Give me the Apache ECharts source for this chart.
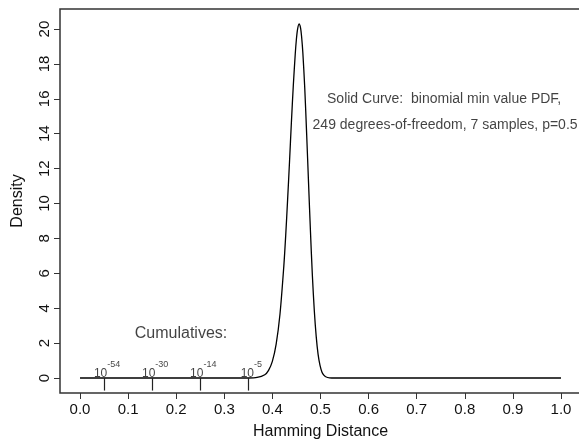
<!DOCTYPE html>
<html><head><meta charset="utf-8">
<script src="https://cdn.jsdelivr.net/npm/echarts@6/dist/echarts.min.js"></script>
<style>html,body{margin:0;padding:0;background:#fff}#c{width:579px;height:442px}</style>
</head><body><div id="c"></div>
<script>
// Curve: x (Hamming distance) and density
const curveX = [0.000, 0.350, 0.3682, 0.3841, 0.3920, 0.3999, 0.4078, 0.4158, 0.4237, 0.4277, 0.4316, 0.4356, 0.4395, 0.4435, 0.4475, 0.4498, 0.4522, 0.4554, 0.4586, 0.4609, 0.4633, 0.4673, 0.4712, 0.4752, 0.4792, 0.4831, 0.4871, 0.4911, 0.4950, 0.4990, 0.5029, 0.5069, 0.5108, 0.5188, 0.5300, 1.000];
const curveY = [0, 0, 0.03, 0.19, 0.44, 0.95, 1.94, 3.67, 6.40, 8.19, 10.21, 12.41, 14.66, 16.78, 18.57, 19.39, 19.97, 20.29, 20.06, 19.50, 18.64, 16.59, 13.99, 11.14, 8.35, 5.88, 3.87, 2.37, 1.35, 0.72, 0.35, 0.16, 0.07, 0.01, 0, 0];
// Cumulative markers
const cumX = [0.05, 0.15, 0.25, 0.35];
const cumExp = ['-54', '-30', '-14', '-5'];
// Tick labels
const xTicks = [0, 0.1, 0.2, 0.3, 0.4, 0.5, 0.6, 0.7, 0.8, 0.9, 1.0];
const yTicks = [0, 2, 4, 6, 8, 10, 12, 14, 16, 18, 20];

const FONT = 'Liberation Sans, Arial, sans-serif';
const TXT = '#111';
const AX = '#333';
const chart = echarts.init(document.getElementById('c'));
chart.setOption({
  animation: false,
  backgroundColor: '#fff',
  grid: { left: 60, top: 9, width: 521, height: 384, show: true, borderColor: AX, borderWidth: 1.5, containLabel: false, outerBoundsMode: 'none' },
  xAxis: {
    type: 'value', min: -0.0416, max: 1.0416,
    name: 'Hamming Distance', nameLocation: 'middle', nameGap: 31,
    nameTextStyle: { fontFamily: FONT, fontSize: 16, color: TXT },
    axisLine: { show: false, onZero: false },
    splitLine: { show: false },
    axisTick: { show: true, length: 6, customValues: xTicks, lineStyle: { color: AX, width: 1 } },
    axisLabel: { customValues: xTicks, margin: 9, fontFamily: FONT, fontSize: 15, color: TXT, formatter: v => v.toFixed(1) }
  },
  yAxis: {
    type: 'value', min: -0.86, max: 21.15,
    name: 'Density', nameLocation: 'middle', nameGap: 34, nameRotate: 90,
    nameTextStyle: { fontFamily: FONT, fontSize: 16, color: TXT },
    axisLine: { show: false, onZero: false },
    splitLine: { show: false },
    axisTick: { show: true, length: 6, customValues: yTicks, lineStyle: { color: AX, width: 1 } },
    axisLabel: { customValues: yTicks, rotate: 90, margin: 8, fontFamily: FONT, fontSize: 15, color: TXT }
  },
  series: [
    {
      type: 'line', data: curveX.map((x, i) => [x, curveY[i]]),
      showSymbol: false, smooth: 0.3, lineStyle: { color: '#000', width: 1.3 },
      markLine: {
        silent: true, symbol: ['none', 'none'], label: { show: false },
        lineStyle: { color: '#222', width: 1.2, type: 'solid' },
        data: cumX.map(x => [{ coord: [x, 0] }, { coord: [x, -0.72] }])
      }
    },
    {
      type: 'scatter', symbolSize: 0, data: cumX.map((x, i) => ({ value: [x, 0], exp: cumExp[i] })),
      label: {
        show: true, position: 'top', distance: 1, offset: [3, 3],
        formatter: p => '{b|10}{s|' + cumExp[p.dataIndex] + '}',
        rich: {
          b: { fontFamily: FONT, fontSize: 12, color: TXT, verticalAlign: 'bottom', lineHeight: 20 },
          s: { fontFamily: FONT, fontSize: 9, color: TXT, verticalAlign: 'top', lineHeight: 20 }
        }
      }
    },
    {
      type: 'scatter', symbolSize: 0,
      data: [{ value: [0.21, 2.55], name: 'Cumulatives:' }],
      label: { show: true, position: 'inside', formatter: 'Cumulatives:', fontFamily: FONT, fontSize: 16, color: TXT }
    },
    {
      type: 'scatter', symbolSize: 0,
      data: [
        { value: [0.757, 16.0], name: 'Solid Curve:  binomial min value PDF,' },
        { value: [0.759, 14.5], name: '249 degrees-of-freedom, 7 samples, p=0.5' }
      ],
      label: { show: true, position: 'inside', formatter: p => p.name, fontFamily: FONT, fontSize: 14, color: TXT }
    }
  ]
});
</script>
</body></html>
